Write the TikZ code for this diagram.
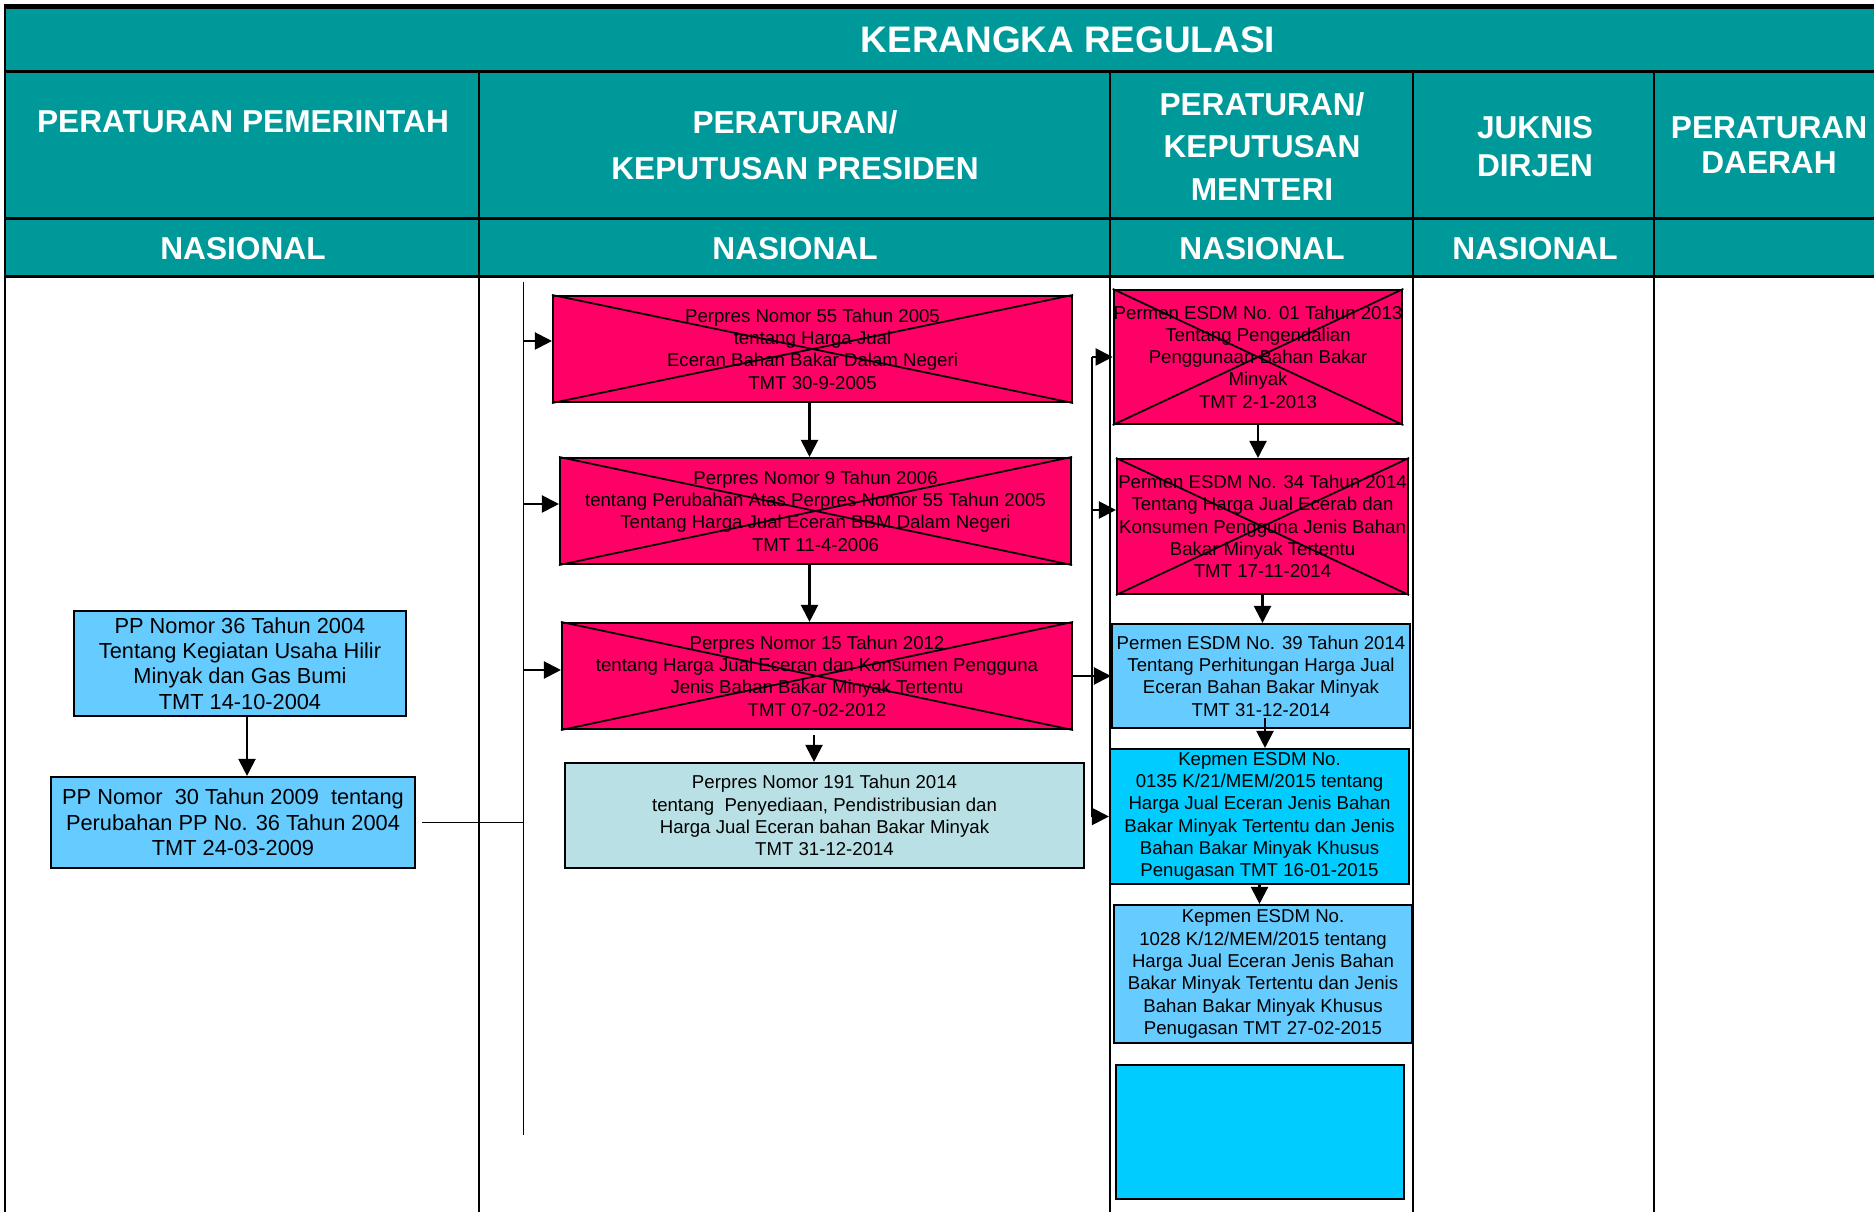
\documentclass[tikz,border=0pt]{standalone}
\usepackage{fontspec}
\setmainfont{Liberation Sans}
\usetikzlibrary{arrows.meta,calc}

\definecolor{kteal}{RGB}{0,153,153}
\definecolor{kpink}{RGB}{255,0,102}
\definecolor{kblue}{RGB}{102,204,255}
\definecolor{kcyan}{RGB}{0,204,255}
\definecolor{kpale}{RGB}{185,224,228}

\tikzset{
	headtext/.style={text=white, align=center, inner sep=0pt, font=\fontsize{9}{#1}\selectfont\bfseries},
	headtext/.default=11pt,
	regbox/.style={draw, line width=.6pt, align=center, inner sep=0pt, font=\fontsize{5.3}{6.35}\selectfont},
	ppbox/.style={regbox, fill=kblue, font=\fontsize{6.2}{7.2}\selectfont},
	arr/.style={line width=.6pt, -{Triangle[length=1.7mm, width=1.7mm]}},
	garis/.style={line width=.55pt},
	silang/.style={line width=.5pt},
}

\begin{document}
\begin{tikzpicture}
	\useasboundingbox (0, 0) rectangle (18.74, 12.12);

	% kepala tabel
	\fill[kteal] (0.05, 9.35) rectangle (18.74, 12.03);
	\draw[line width=1.4pt] (0.05, 12.055) to (18.74, 12.055);
	\draw[line width=.85pt] (0.05, 11.40) to (18.74, 11.40);
	\draw[line width=.85pt] (0.05, 9.93) to (18.74, 9.93);
	\draw[line width=.85pt] (0.05, 9.35) to (18.74, 9.35);
	\draw[line width=.6pt] (0.05, 12.08) to (0.05, 0);
	\draw[line width=.6pt] (4.79, 11.40) to (4.79, 0);
	\draw[line width=.6pt] (11.10, 11.40) to (11.10, 0);
	\draw[line width=.6pt] (14.13, 11.40) to (14.13, 0);
	\draw[line width=.6pt] (16.54, 11.40) to (16.54, 0);

	\node[headtext, font=\fontsize{10.5}{12}\selectfont\bfseries] (judul) at (10.68, 11.725) {KERANGKA REGULASI};
	\node[headtext] (hpp) at (2.43, 10.90) {PERATURAN PEMERINTAH};
	\node[headtext=13.2pt] (hperpres) at (7.95, 10.67) {PERATURAN/\\KEPUTUSAN PRESIDEN};
	\node[headtext=12pt] (hpermen) at (12.62, 10.655) {PERATURAN/\\KEPUTUSAN\\MENTERI};
	\node[headtext=11pt] (hjuknis) at (15.35, 10.655) {JUKNIS\\DIRJEN};
	\node[headtext=10pt] (hperda) at (17.69, 10.665) {PERATURAN\\DAERAH};

	\node[headtext] (nas1) at (2.43, 9.63) {NASIONAL};
	\node[headtext] (nas2) at (7.95, 9.63) {NASIONAL};
	\node[headtext] (nas3) at (12.62, 9.63) {NASIONAL};
	\node[headtext] (nas4) at (15.35, 9.63) {NASIONAL};

	% peraturan pemerintah
	\node[ppbox, minimum width=3.32cm, minimum height=1.05cm] (pp36) at (2.40, 5.485) {PP Nomor 36 Tahun 2004\\Tentang Kegiatan Usaha Hilir\\Minyak dan Gas Bumi\\TMT 14-10-2004};
	\node[ppbox, minimum width=3.64cm, minimum height=.91cm] (pp30) at (2.33, 3.895) {PP Nomor\ \ 30 Tahun 2009\ \ tentang\\Perubahan PP No. 36 Tahun 2004\\TMT 24-03-2009};
	\draw[arr] ($(pp36.south)+(.07,0)$) to ($(pp36.south |- pp30.north)+(.07,0)$);

	% perpres
	\node[regbox, fill=kpink, minimum width=5.19cm, minimum height=1.06cm] (perpres55) at (8.125, 8.63) {Perpres Nomor 55 Tahun 2005\\tentang Harga Jual\\Eceran Bahan Bakar Dalam Negeri\\TMT 30-9-2005};
	\node[regbox, fill=kpink, minimum width=5.11cm, minimum height=1.06cm] (perpres9) at (8.155, 7.01) {Perpres Nomor 9 Tahun 2006\\tentang Perubahan Atas Perpres Nomor 55 Tahun 2005\\Tentang Harga Jual Eceran BBM Dalam Negeri\\TMT 11-4-2006};
	\node[regbox, fill=kpink, minimum width=5.10cm, minimum height=1.06cm] (perpres15) at (8.17, 5.36) {Perpres Nomor 15 Tahun 2012\\tentang Harga Jual Eceran dan Konsumen Pengguna\\Jenis Bahan Bakar Minyak Tertentu\\TMT 07-02-2012};
	\node[regbox, fill=kpale, minimum width=5.19cm, minimum height=1.05cm] (perpres191) at (8.245, 3.965) {Perpres Nomor 191 Tahun 2014\\tentang\ \ Penyediaan, Pendistribusian dan\\Harga Jual Eceran bahan Bakar Minyak\\TMT 31-12-2014};

	\coordinate (busperpres) at (5.235, 9.30);
	\coordinate (busperpresbawah) at (5.235, 0.77);
	\draw[garis] (busperpres) to (busperpresbawah);
	\draw[garis, shorten <=.06cm] (pp30.east) to (pp30.east -| busperpres);
	\draw[arr] ($(perpres55.west -| busperpres)+(0,.08)$) to ($(perpres55.west)+(0,.08)$);
	\draw[arr] ($(perpres9.west -| busperpres)+(0,.07)$) to ($(perpres9.west)+(0,.07)$);
	\draw[arr] ($(perpres15.west -| busperpres)+(0,.06)$) to ($(perpres15.west)+(0,.06)$);

	\draw[arr] ($(perpres55.south)+(-.03,0)$) to ($(perpres55.south |- perpres9.north)+(-.03,0)$);
	\draw[arr] ($(perpres9.south)+(-.06,0)$) to ($(perpres9.south |- perpres15.north)+(-.06,0)$);
	\draw[arr] ($(perpres15.south)+(-.03,-.05)$) to ($(perpres15.south |- perpres191.north)+(-.03,0)$);

	% permen / kepmen
	\node[regbox, fill=kpink, minimum width=2.88cm, minimum height=1.34cm] (permen01) at (12.58, 8.55) {Permen ESDM No. 01 Tahun 2013\\Tentang Pengendalian\\Penggunaan Bahan Bakar\\Minyak\\TMT 2-1-2013};
	\node[regbox, fill=kpink, minimum width=2.91cm, minimum height=1.35cm] (permen34) at (12.625, 6.855) {Permen ESDM No. 34 Tahun 2014\\Tentang Harga Jual Ecerab dan\\Konsumen Pengguna Jenis Bahan\\Bakar Minyak Tertentu\\TMT 17-11-2014};
	\node[regbox, fill=kblue, minimum width=2.98cm, minimum height=1.04cm] (permen39) at (12.61, 5.36) {Permen ESDM No. 39 Tahun 2014\\Tentang Perhitungan Harga Jual\\Eceran Bahan Bakar Minyak\\TMT 31-12-2014};
	\node[regbox, fill=kcyan, minimum width=2.99cm, minimum height=1.35cm] (kepmen0135) at (12.595, 3.955) {Kepmen ESDM No.\\0135 K/21/MEM/2015 tentang\\Harga Jual Eceran Jenis Bahan\\Bakar Minyak Tertentu dan Jenis\\Bahan Bakar Minyak Khusus\\Penugasan TMT 16-01-2015};
	\node[regbox, fill=kblue, minimum width=2.98cm, minimum height=1.38cm] (kepmen1028) at (12.63, 2.38) {Kepmen ESDM No.\\1028 K/12/MEM/2015 tentang\\Harga Jual Eceran Jenis Bahan\\Bakar Minyak Tertentu dan Jenis\\Bahan Bakar Minyak Khusus\\Penugasan TMT 27-02-2015};
	\node[regbox, fill=kcyan, minimum width=2.88cm, minimum height=1.34cm] (kepmenkosong) at (12.60, 0.80) {};

	\coordinate (busmenteri) at (10.92, 8.56);
	\draw[garis] (permen01.west -| busmenteri) to (kepmen0135.west -| busmenteri);
	\draw[arr] (permen01.west -| busmenteri) to (permen01.west);
	\draw[arr] ($(permen34.west -| busmenteri)+(0,.165)$) to ($(permen34.west)+(0,.165)$);
	\draw[arr] (perpres15.east) to (permen39.west);
	\draw[arr] (kepmen0135.west -| busmenteri) to (kepmen0135.west);

	\draw[arr] (permen01.south) to (permen01.south |- permen34.north);
	\draw[arr] (permen34.south) to (permen34.south |- permen39.north);
	\draw[arr] ($(permen39.south)+(.04,.11)$) to ($(permen39.south |- kepmen0135.north)+(.04,0)$);
	\draw[arr] (kepmen0135.south) to (kepmen0135.south |- kepmen1028.north);

	% dicabut
	\draw[silang] (perpres55.north west) to (perpres55.south east);
	\draw[silang] (perpres55.south west) to (perpres55.north east);
	\draw[silang] (perpres9.north west) to (perpres9.south east);
	\draw[silang] (perpres9.south west) to (perpres9.north east);
	\draw[silang] (perpres15.north west) to (perpres15.south east);
	\draw[silang] (perpres15.south west) to (perpres15.north east);
	\draw[silang] (permen01.north west) to (permen01.south east);
	\draw[silang] (permen01.south west) to (permen01.north east);
	\draw[silang] (permen34.north west) to (permen34.south east);
	\draw[silang] (permen34.south west) to (permen34.north east);
\end{tikzpicture}
\end{document}
